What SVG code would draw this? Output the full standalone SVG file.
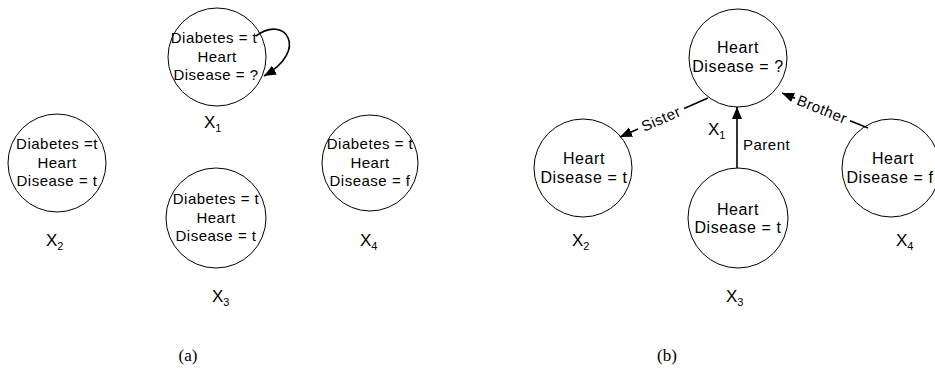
<svg xmlns="http://www.w3.org/2000/svg" width="935" height="387" viewBox="0 0 935 387">
<defs>
<marker id="arr" markerUnits="userSpaceOnUse" markerWidth="14" markerHeight="12" refX="12" refY="5" orient="auto">
<path d="M0,0 L12,5 L0,10 z" fill="#000"/>
</marker>
</defs>
<style>
.n{fill:#fff;stroke:#000;stroke-width:1}
.ta{font-family:"Liberation Sans",Arial,sans-serif;font-size:15px;letter-spacing:0.5px;text-anchor:middle;fill:#000}
.tb{font-family:"Liberation Sans",Arial,sans-serif;font-size:16px;letter-spacing:0.6px;text-anchor:middle;fill:#000}
.xa{font-family:"Liberation Sans",Arial,sans-serif;font-size:17px;fill:#000}
.xb{font-family:"Liberation Sans",Arial,sans-serif;font-size:17px;fill:#000}
.sub{font-size:11px}
.e{fill:none;stroke:#000;stroke-width:1.6;marker-end:url(#arr)}
.el{font-family:"Liberation Sans",Arial,sans-serif;font-size:15px;letter-spacing:0.5px;text-anchor:middle;fill:#000}
.cap{font-family:"Liberation Serif","Times New Roman",serif;font-size:17px;text-anchor:middle;fill:#000}
</style>

<!-- Panel (a) -->
<g id="a-x1">
<circle class="n" cx="217" cy="57" r="49"/>
<text class="ta" x="214" y="43">Diabetes = t</text>
<text class="ta" x="217" y="62">Heart</text>
<text class="ta" x="216" y="80">Disease = ?</text>
<text class="xa" x="204" y="128">X<tspan class="sub" dy="4">1</tspan></text>
</g>
<g id="a-x2">
<circle class="n" cx="57" cy="163" r="49"/>
<text class="ta" x="57" y="149">Diabetes =t</text>
<text class="ta" x="57" y="168">Heart</text>
<text class="ta" x="57" y="186">Disease = t</text>
<text class="xa" x="46" y="246">X<tspan class="sub" dy="4">2</tspan></text>
</g>
<g id="a-x3">
<circle class="n" cx="216" cy="218" r="50"/>
<text class="ta" x="216" y="204">Diabetes = t</text>
<text class="ta" x="216" y="223">Heart</text>
<text class="ta" x="216" y="241">Disease = t</text>
<text class="xa" x="212" y="302">X<tspan class="sub" dy="4">3</tspan></text>
</g>
<g id="a-x4">
<circle class="n" cx="370" cy="163" r="48"/>
<text class="ta" x="370" y="149">Diabetes = t</text>
<text class="ta" x="370" y="168">Heart</text>
<text class="ta" x="370" y="186">Disease = f</text>
<text class="xa" x="360" y="246">X<tspan class="sub" dy="4">4</tspan></text>
</g>

<!-- Panel (b) -->
<g id="b-x1">
<circle class="n" cx="738" cy="58" r="49"/>
<text class="tb" x="738" y="53">Heart</text>
<text class="tb" x="738" y="72">Disease = ?</text>
<text class="xb" x="708" y="135">X<tspan class="sub" dy="4">1</tspan></text>
</g>
<g id="b-x2">
<circle class="n" cx="583" cy="168" r="49"/>
<text class="tb" x="584" y="164">Heart</text>
<text class="tb" x="584" y="183">Disease = t</text>
<text class="xb" x="572" y="246">X<tspan class="sub" dy="4">2</tspan></text>
</g>
<g id="b-x3">
<circle class="n" cx="738" cy="218" r="50"/>
<text class="tb" x="738" y="215">Heart</text>
<text class="tb" x="738" y="233">Disease = t</text>
<text class="xb" x="726" y="302">X<tspan class="sub" dy="4">3</tspan></text>
</g>
<g id="b-x4">
<circle class="n" cx="891" cy="168" r="49"/>
<text class="tb" x="893" y="164">Heart</text>
<text class="tb" x="890" y="183">Disease = f</text>
<text class="xb" x="896" y="246">X<tspan class="sub" dy="4">4</tspan></text>
</g>

<g id="connectors">
<path class="e" d="M256,36 C285,14 310,50 264,76"/>
<path class="e" d="M708,98 L684,108.6 M638,129 L620,137"/>
<text class="el" transform="translate(661,119) rotate(-24)" y="5">Sister</text>
<path class="e" d="M737,168 L737,107"/>
<text class="el" x="743" y="150" style="text-anchor:start">Parent</text>
<path class="e" d="M868,128 L850,120.7 M795,98.3 L782,93"/>
<text class="el" transform="translate(822,109.5) rotate(22)" y="5">Brother</text>
</g>

<text class="cap" x="188" y="361">(a)</text>
<text class="cap" x="667" y="361">(b)</text>
</svg>
